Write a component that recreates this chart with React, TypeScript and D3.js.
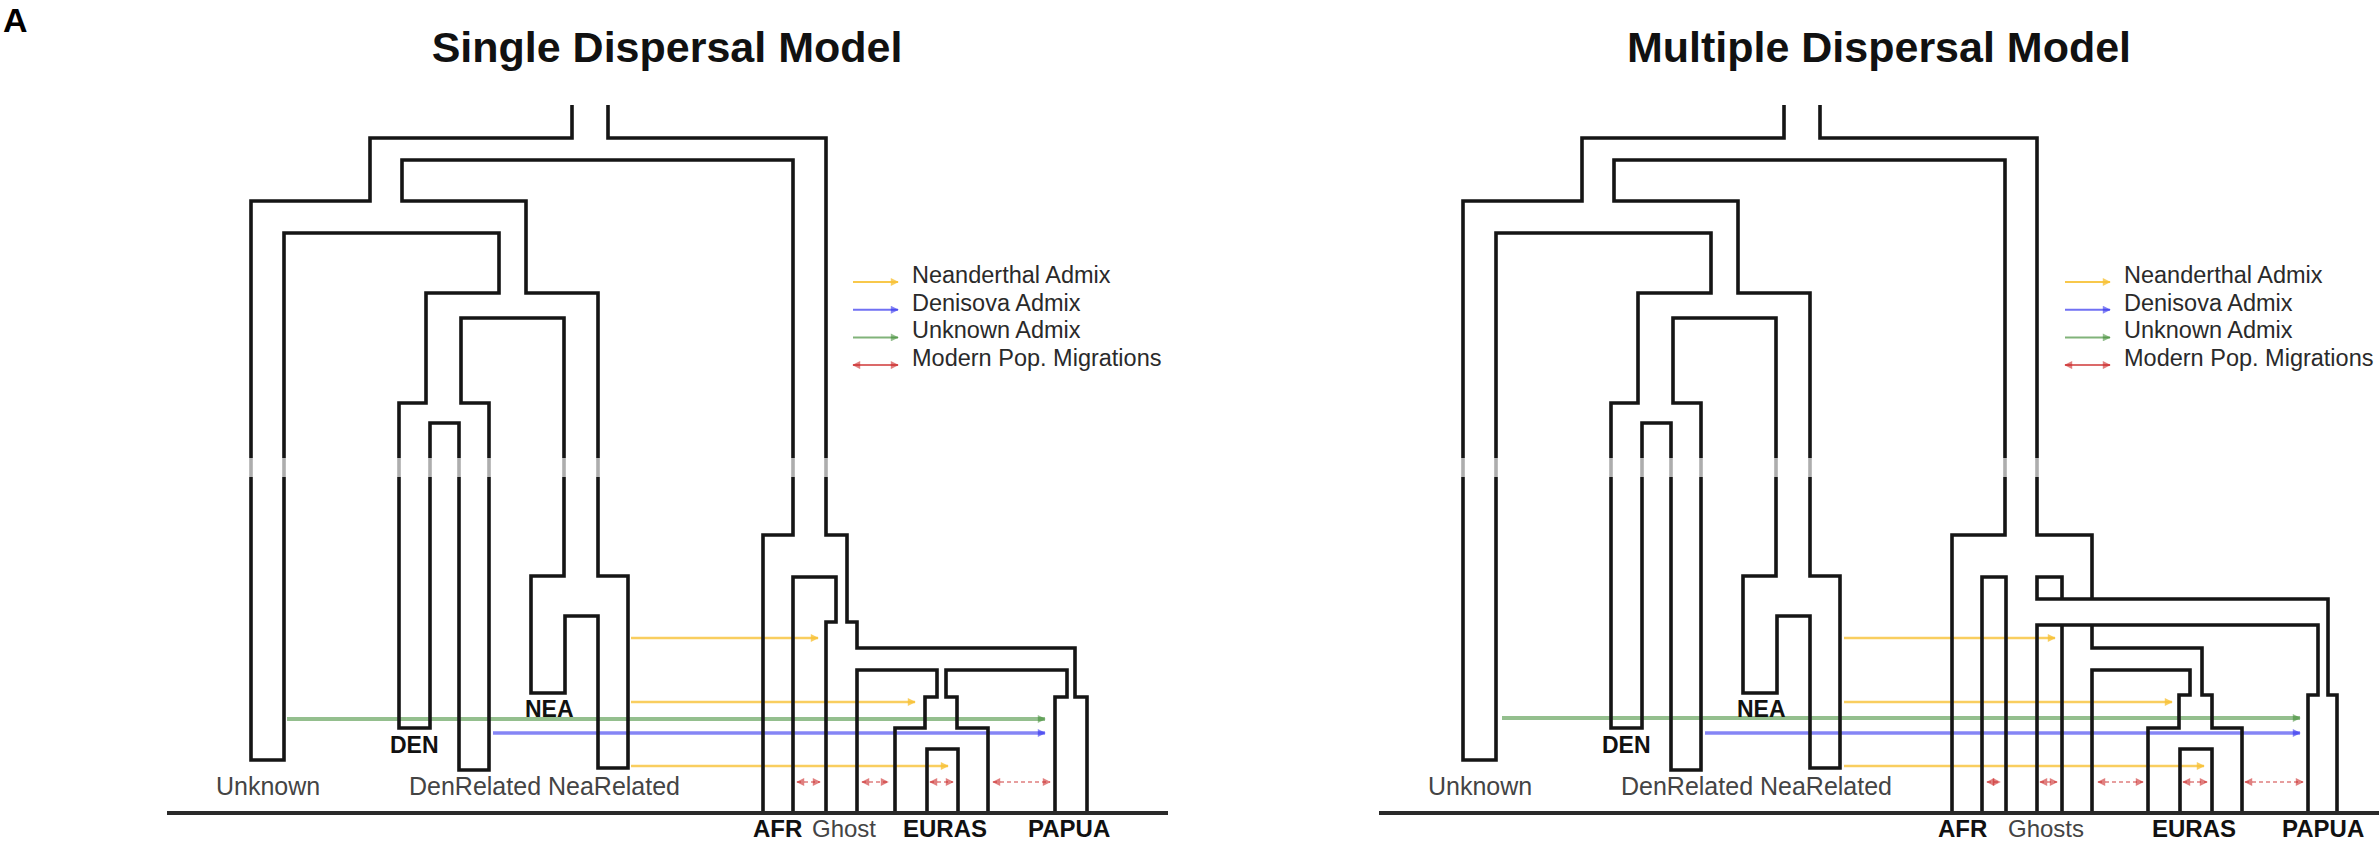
import React, { useEffect, useRef } from 'react'
import * as d3 from 'd3'

// x = horizontal slot in tree units, t = time above present (baseline = 0)
const archaicOutline = [
  [572, 708], [572, 675], [370, 675], [370, 612], [251, 612], [251, 53], [284, 53], [284, 580],
  [499, 580], [499, 520], [426, 520], [426, 410], [399, 410], [399, 85], [430, 85], [430, 390],
  [459, 390], [459, 43], [489, 43], [489, 410], [461, 410], [461, 495], [564, 495], [564, 237],
  [531, 237], [531, 120], [565, 120], [565, 197], [598, 197], [598, 45], [628, 45], [628, 237],
  [598, 237], [598, 520], [526, 520], [526, 612], [402, 612], [402, 653], [793, 653], [793, 278]
]

const afrTailSingle = [[793, 278], [763, 278], [763, 0]]
const afrTailMultiple = [[793, 278], [740, 278], [740, 0]]

const modernSingle = [
  [[793, 0], [793, 236], [836, 236], [836, 191], [826, 191], [826, 0]],
  [[857, 0], [857, 143], [937, 143], [937, 116], [925, 116], [925, 85], [895, 85], [895, 0]],
  [[927, 0], [927, 64], [958, 64], [958, 0]],
  [[988, 0], [988, 85], [957, 85], [957, 116], [946, 116], [946, 143], [1067, 143], [1067, 116], [1055, 116], [1055, 0]],
  [[1087, 0], [1087, 116], [1075, 116], [1075, 165], [857, 165], [857, 191], [847, 191], [847, 278], [826, 278], [826, 675], [608, 675], [608, 708]]
]

const modernMultiple = [
  [[770, 0], [770, 236], [794, 236], [794, 0]],
  [[1125, 0], [1125, 118], [1116, 118], [1116, 214], [825, 214], [825, 236], [850, 236], [850, 214]],
  [[880, 214], [880, 278], [825, 278], [825, 675], [608, 675], [608, 708]],
  [[825, 0], [825, 188], [1106, 188], [1106, 118], [1096, 118], [1096, 0]],
  [[850, 0], [850, 188]],
  [[880, 188], [880, 165], [990, 165], [990, 118], [1000, 118], [1000, 85], [1030, 85], [1030, 0]],
  [[880, 0], [880, 143], [978, 143], [978, 118], [967, 118], [967, 85], [936, 85], [936, 0]],
  [[968, 0], [968, 64], [1000, 64], [1000, 0]]
]

// admixture pulses: [from, to, t, kind]
const admixSingle = [
  [631, 818, 175, 'nea'], [631, 915, 111, 'nea'], [287, 1045, 94, 'unk'],
  [493, 1045, 80, 'den'], [631, 948, 47, 'nea']
]
const admixMultiple = [
  [632, 843, 175, 'nea'], [632, 960, 111, 'nea'], [290, 1088, 95, 'unk'],
  [493, 1088, 80, 'den'], [632, 992, 47, 'nea']
]

// modern migrations (two-way) at t = 31
const migrationT = 31
const migrationsSingle = [[797, 820], [862, 888], [930, 953], [993, 1050]]
const migrationsMultiple = [[775, 788], [828, 845], [886, 931], [971, 995], [1033, 1091]]

// labels: [text, x, t, bold]
const archaicLabels = [
  ['Unknown', 216, 18, false], ['DenRelated NeaRelated', 409, 18, false],
  ['DEN', 390, 60, true], ['NEA', 525, 96, true]
]
const tipLabelsSingle = [['AFR', 753, true], ['Ghost', 812, false], ['EURAS', 903, true], ['PAPUA', 1028, true]]
const tipLabelsMultiple = [['AFR', 726, true], ['Ghosts', 796, false], ['EURAS', 940, true], ['PAPUA', 1070, true]]

const legendKinds = ['nea', 'den', 'unk', 'mod']
const legendLabels = ['Neanderthal Admix', 'Denisova Admix', 'Unknown Admix', 'Modern Pop. Migrations']

const titles = ['Single Dispersal Model', 'Multiple Dispersal Model']

const kinds = {
  nea: { color: '#f7c237', width: 2.5, opacity: 0.8 },
  den: { color: '#3434ee', width: 3.5, opacity: 0.6 },
  unk: { color: '#3d8a32', width: 4, opacity: 0.55 },
  mod: { color: '#cc2a2a', width: 1.6, opacity: 0.6 }
}

const FONT = "'Liberation Sans', Arial, Helvetica, sans-serif"

function App() {
  const ref = useRef(null)

  useEffect(() => {
    document.body.style.margin = '0'
    drawChart(ref.current)
  }, [])

  return <svg ref={ref} width={2379} height={843} style={{ display: 'block' }}></svg>
}

function drawChart(node) {
  const svg = d3.select(node)
  svg.selectAll('*').remove()
  svg.append('rect').attr('width', 2379).attr('height', 843).attr('fill', '#fff')

  const defs = svg.append('defs')
  Object.keys(kinds).forEach(k => {
    defs.append('marker')
      .attr('id', 'arr-' + k)
      .attr('viewBox', '0 0 10 10')
      .attr('refX', 9).attr('refY', 5)
      .attr('markerWidth', 11).attr('markerHeight', 8)
      .attr('markerUnits', 'userSpaceOnUse')
      .attr('orient', 'auto-start-reverse')
      .append('path')
      .attr('d', 'M0,0 L10,5 L0,10 z')
      .attr('fill', kinds[k].color)
      .attr('opacity', kinds[k].opacity)
  })

  const panels = [
    { offset: 0, title: titles[0], tail: afrTailSingle, modern: modernSingle, admix: admixSingle, mig: migrationsSingle, tips: tipLabelsSingle },
    { offset: 1212, title: titles[1], tail: afrTailMultiple, modern: modernMultiple, admix: admixMultiple, mig: migrationsMultiple, tips: tipLabelsMultiple }
  ]

  svg.append('text')
    .attr('x', 3).attr('y', 32)
    .attr('font-family', FONT).attr('font-weight', 'bold').attr('font-size', 34)
    .text('A')

  panels.forEach(p => drawPanel(svg, p))

  // faded band across the branches
  svg.append('rect')
    .attr('x', 0).attr('y', 458).attr('width', 2379).attr('height', 19)
    .attr('fill', '#fff').attr('opacity', 0.65)
}

function drawPanel(svg, p) {
  const x = d3.scaleLinear().domain([0, 1200]).range([p.offset, p.offset + 1200])
  const y = d3.scaleLinear().domain([0, 708]).range([813, 105])
  const line = d3.line().x(d => x(d[0])).y(d => y(d[1]))
  const g = svg.append('g')

  g.append('text')
    .attr('x', x(667)).attr('y', 62)
    .attr('text-anchor', 'middle')
    .attr('font-family', FONT).attr('font-weight', 'bold').attr('font-size', 43)
    .attr('fill', '#111')
    .text(p.title)

  // admixture arrows
  g.selectAll('line.admix')
    .data(p.admix)
    .enter()
    .append('line')
    .attr('x1', d => x(d[0])).attr('x2', d => x(d[1]))
    .attr('y1', d => y(d[2])).attr('y2', d => y(d[2]))
    .attr('stroke', d => kinds[d[3]].color)
    .attr('stroke-width', d => kinds[d[3]].width)
    .attr('stroke-opacity', d => kinds[d[3]].opacity)
    .attr('marker-end', d => 'url(#arr-' + d[3] + ')')

  g.selectAll('line.mig')
    .data(p.mig)
    .enter()
    .append('line')
    .attr('x1', d => x(d[0])).attr('x2', d => x(d[1]))
    .attr('y1', y(migrationT)).attr('y2', y(migrationT))
    .attr('stroke', kinds.mod.color)
    .attr('stroke-width', kinds.mod.width)
    .attr('stroke-opacity', kinds.mod.opacity)
    .attr('stroke-dasharray', '4,3')
    .attr('marker-start', 'url(#arr-mod)')
    .attr('marker-end', 'url(#arr-mod)')

  // tree outlines
  const outlines = [archaicOutline.concat(p.tail.slice(1))].concat(p.modern)
  g.selectAll('path.tree')
    .data(outlines)
    .enter()
    .append('path')
    .attr('d', d => line(d))
    .attr('fill', 'none')
    .attr('stroke', '#151515')
    .attr('stroke-width', 3.6)
    .attr('stroke-linejoin', 'miter')

  // present-day baseline
  g.append('line')
    .attr('x1', x(167)).attr('x2', x(1168))
    .attr('y1', y(0)).attr('y2', y(0))
    .attr('stroke', '#2a2a2a').attr('stroke-width', 4)

  g.selectAll('text.arch')
    .data(archaicLabels)
    .enter()
    .append('text')
    .attr('x', d => x(d[1])).attr('y', d => y(d[2]))
    .attr('font-family', FONT)
    .attr('font-size', d => d[3] ? 23 : 25)
    .attr('font-weight', d => d[3] ? 'bold' : 'normal')
    .attr('fill', d => d[3] ? '#111' : '#444')
    .text(d => d[0])

  g.selectAll('text.tip')
    .data(p.tips)
    .enter()
    .append('text')
    .attr('x', d => x(d[1])).attr('y', 837)
    .attr('font-family', FONT)
    .attr('font-size', 24)
    .attr('font-weight', d => d[2] ? 'bold' : 'normal')
    .attr('fill', d => d[2] ? '#111' : '#444')
    .text(d => d[0])

  // legend
  const lg = g.append('g')
  legendKinds.forEach((k, i) => {
    const yy = 282 + i * 27.7
    lg.append('line')
      .attr('x1', x(853)).attr('x2', x(898))
      .attr('y1', yy).attr('y2', yy)
      .attr('stroke', kinds[k].color)
      .attr('stroke-width', 2)
      .attr('stroke-opacity', kinds[k].opacity + 0.1)
      .attr('marker-start', k === 'mod' ? 'url(#arr-mod)' : null)
      .attr('marker-end', 'url(#arr-' + k + ')')
    lg.append('text')
      .attr('x', x(912)).attr('y', yy + 1)
      .attr('font-family', FONT).attr('font-size', 23.5)
      .attr('fill', '#2a2a2a')
      .text(legendLabels[i])
  })
}

export default App
